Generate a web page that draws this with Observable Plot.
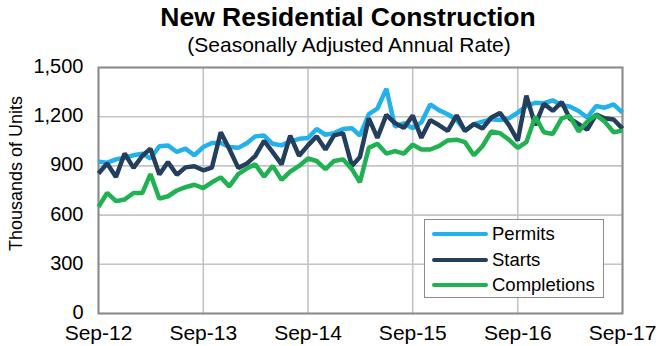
<!DOCTYPE html>
<html>
<head>
<meta charset="utf-8">
<script src="https://cdn.jsdelivr.net/npm/d3@7"></script>
<script src="https://cdn.jsdelivr.net/npm/@observablehq/plot@0.6"></script>
<style>
  html, body { margin: 0; padding: 0; background: #fff; }
  #wrap { position: relative; width: 658px; height: 346px; font-family: "Liberation Sans", Arial, sans-serif; }
  #title { position: absolute; left: 0; top: 1px; width: 696px; text-align: center; font-weight: bold; font-size: 26.5px; line-height: 32px; color: #000; }
  #subtitle { position: absolute; left: 0; top: 33px; width: 698px; text-align: center; font-size: 21px; line-height: 24px; color: #000; }
  #legend { position: absolute; left: 424px; top: 219px; width: 180px; height: 79px; border: 1.5px solid #8c8c8c; background: #fff; box-sizing: border-box; }
  .row { position: absolute; left: 7px; height: 22px; display: flex; align-items: center; font-size: 18.5px; color: #000; white-space: nowrap; }
  .sw { width: 56px; height: 4px; border-radius: 2px; margin-right: 4px; }
  #chart { position: absolute; left: 0; top: 0; }
</style>
</head>
<body>
<div id="wrap">
  <div id="chart"></div>
  <div id="title">New Residential Construction</div>
  <div id="subtitle">(Seasonally Adjusted Annual Rate)</div>
  <div id="legend"></div>
</div>
<script>
// Monthly, Sep-2012 .. Sep-2017 (thousands of units, SAAR)
const startMonth = Date.UTC(2012, 8, 1);
const endMonth = Date.UTC(2017, 8, 1);
const months = d3.utcMonth.range(new Date(startMonth), d3.utcMonth.offset(new Date(endMonth), 1));

const seriesNames = ["Permits", "Starts", "Completions"];
const seriesColors = ["#23b1ea", "#243e5e", "#1fb152"];

const permits = [925, 920, 940, 950, 965, 975, 945, 1020, 1025, 985, 1005, 965,
  1015, 1040, 1040, 1015, 1010, 1040, 1080, 1085, 1035, 1025, 1050, 1065,
  1070, 1125, 1090, 1100, 1125, 1130, 1085, 1215, 1250, 1370, 1140, 1160,
  1130, 1165, 1275, 1240, 1215, 1180, 1115, 1155, 1170, 1185, 1180, 1190,
  1225, 1265, 1285, 1282, 1300, 1270, 1262, 1235, 1195, 1265, 1255, 1275,
  1225];
const starts = [854, 915, 833, 976, 888, 962, 1005, 847, 923, 846, 891, 898,
  873, 889, 1105, 1003, 888, 915, 960, 1052, 984, 909, 1085, 962,
  1025, 1081, 1000, 1086, 1100, 900, 954, 1190, 1071, 1211, 1161, 1132,
  1207, 1071, 1179, 1149, 1114, 1208, 1113, 1155, 1128, 1195, 1223, 1150,
  1054, 1328, 1149, 1279, 1236, 1289, 1189, 1155, 1122, 1213, 1190, 1183,
  1127];
const completions = [650, 735, 685, 695, 735, 735, 850, 700, 715, 750, 770, 785,
  765, 800, 830, 775, 850, 885, 910, 835, 900, 815, 865, 900,
  945, 930, 880, 930, 940, 880, 800, 1010, 1035, 975, 990, 975,
  1030, 1000, 1000, 1020, 1055, 1060, 1045, 965, 1020, 1110, 1100, 1060,
  1010, 1045, 1200, 1105, 1095, 1190, 1205, 1110, 1170, 1210, 1170, 1105,
  1115];

const xTickLabels = ["Sep-12", "Sep-13", "Sep-14", "Sep-15", "Sep-16", "Sep-17"];
const yTicks = [0, 300, 600, 900, 1200, 1500];
const yLabel = "Thousands of Units";

const xTicks = xTickLabels.map((_, i) => new Date(Date.UTC(2012 + i, 8, 1)));
const allValues = [permits, starts, completions];
const data = seriesNames.flatMap((name, s) =>
  months.map((date, i) => ({ series: name, date, value: allValues[s][i] })));

const fmtX = d => xTickLabels[xTicks.findIndex(t => +t === +d)];

const chart = Plot.plot({
  width: 658,
  height: 346,
  marginTop: 67,
  marginLeft: 98,
  marginRight: 36,
  marginBottom: 33,
  style: { fontFamily: "'Liberation Sans', Arial, sans-serif", background: "transparent", color: "#000", overflow: "visible" },
  x: { type: "utc", domain: [months[0], months[months.length - 1]] },
  y: { domain: [0, 1500] },
  color: { domain: seriesNames, range: seriesColors },
  marks: [
    Plot.gridY(yTicks, { stroke: "#c4c4c4", strokeOpacity: 1, strokeWidth: 1.6 }),
    Plot.gridX(xTicks, { stroke: "#c4c4c4", strokeOpacity: 1, strokeWidth: 1.6 }),
    Plot.frame({ stroke: "#8c8c8c", strokeWidth: 2 }),
    Plot.axisY({ ticks: yTicks, tickFormat: d3.format(","), tickSize: 0, tickPadding: 15, fontSize: 20, dy: -1, label: null }),
    Plot.axisX({ ticks: xTicks, tickFormat: fmtX, tickSize: 0, tickPadding: 12, fontSize: 21, label: null }),
    Plot.text([yLabel], { frameAnchor: "left", textAnchor: "middle", rotate: -90, dx: -82, dy: -17, fontSize: 18, fill: "#000" }),
    Plot.line(data, { x: "date", y: "value", z: "series", stroke: "series", strokeWidth: 4.5, strokeLinejoin: "miter", strokeLinecap: "butt" })
  ]
});
document.getElementById("chart").appendChild(chart);

const legend = document.getElementById("legend");
seriesNames.forEach((name, i) => {
  const row = document.createElement("div");
  row.className = "row";
  row.style.top = (3 + i * 25.5) + "px";
  const sw = document.createElement("div");
  sw.className = "sw";
  sw.style.background = seriesColors[i];
  const lab = document.createElement("span");
  lab.textContent = name;
  row.appendChild(sw);
  row.appendChild(lab);
  legend.appendChild(row);
});
</script>
</body>
</html>
